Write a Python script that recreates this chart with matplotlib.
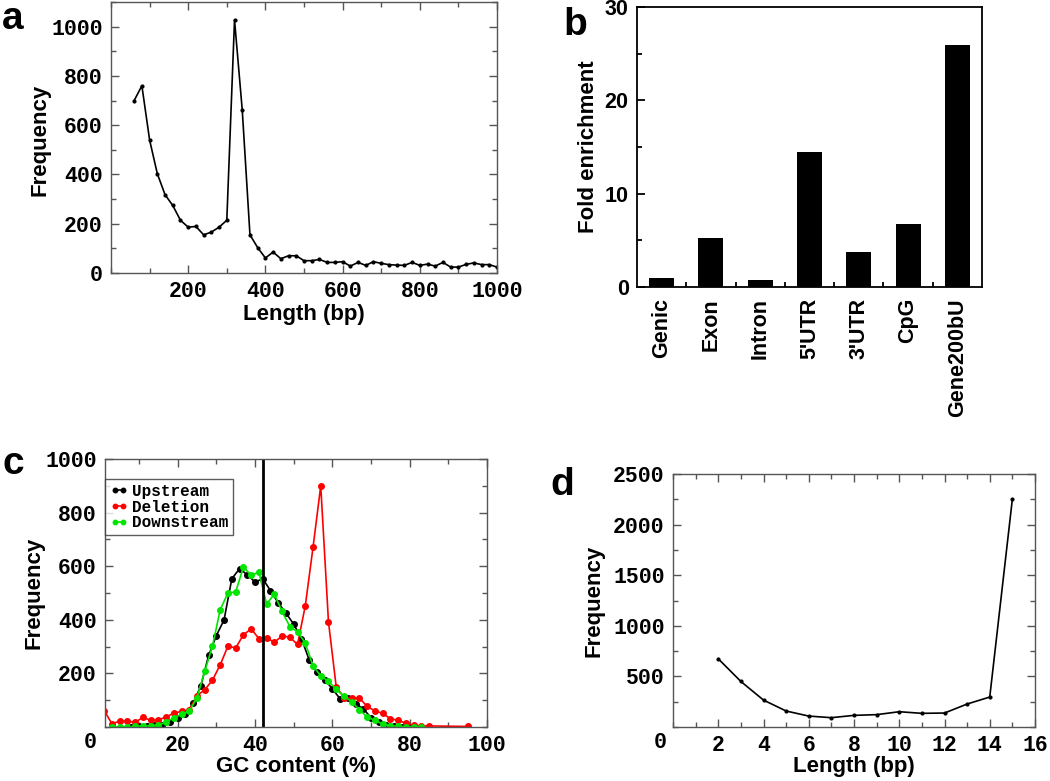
import matplotlib
matplotlib.use("Agg")
import matplotlib.pyplot as plt
from matplotlib.ticker import MultipleLocator, FixedLocator

# ---------------- data ----------------
# Panel a: fragment length distribution
len_a = list(range(60, 1001, 20))
freq_a = [700, 760, 540, 403, 318, 274, 214, 186, 189, 155, 166, 186, 214, 1027, 662,
          155, 103, 61, 85, 58, 70, 70, 50, 50, 55, 43, 43, 46, 28, 43, 31, 46, 39, 34,
          32, 31, 43, 31, 36, 28, 43, 24, 24, 35, 41, 34, 34, 24]

# Panel b: fold enrichment
regions_b = ["Genic", "Exon", "Intron", "5'UTR", "3'UTR", "CpG", "Gene200bU"]
fold_b = [1.0, 5.3, 0.8, 14.5, 3.75, 6.8, 25.9]

# Panel c: GC content
gc_up_x = list(range(8, 81, 2))
gc_up_y = [0, 2, 4, 6, 8, 20, 33, 48, 88, 154, 267, 341, 400, 553, 591, 568, 541, 553,
           509, 463, 425, 384, 330, 251, 204, 176, 143, 105, 108, 87, 68, 35, 18, 8, 4, 1, 0]
gc_del_x = list(range(1, 86, 2)) + [95]
gc_del_y = [61, 12, 22, 22, 17, 36, 25, 27, 37, 52, 58, 64, 117, 139, 175, 232, 302, 295,
            344, 366, 330, 332, 316, 340, 335, 308, 452, 670, 900, 392, 150, 110, 108, 108,
            77, 60, 51, 31, 25, 14, 6, 4, 4, 2]
gc_down_x = list(range(3, 84, 2))
gc_down_y = [0, 0, 0, 2, 4, 5, 7, 19, 34, 48, 58, 110, 208, 302, 438, 500, 504, 597, 566,
             578, 459, 496, 431, 375, 355, 313, 228, 191, 170, 141, 114, 95, 64, 37, 25, 11,
             5, 3, 1, 0, 0]
gc_genome = 42
series_labels_c = ["Upstream", "Deletion", "Downstream"]

# Panel d: length distribution
len_d = list(range(2, 16))
freq_d = [674, 450, 266, 158, 108, 92, 115, 122, 151, 135, 138, 227, 296, 2253]

# ---------------- styling ----------------
W, H = 1050, 781
MONO = "Liberation Mono"
SANS = "Liberation Sans"
SPINE = "#555555"
TICK_SIZE = 15.5

fig = plt.figure(figsize=(W / 100, H / 100), dpi=100)


def axes_px(l, t, r, b):
    return fig.add_axes([l / W, 1 - b / H, (r - l) / W, (b - t) / H])


def style_axes(ax, color=SPINE, lw=1.0, fam=MONO, size=TICK_SIZE):
    for s in ax.spines.values():
        s.set_color(color)
        s.set_linewidth(lw)
    ax.tick_params(which="both", direction="in", top=True, right=True, color=color)
    ax.tick_params(which="major", length=6, width=lw, pad=6)
    ax.tick_params(which="minor", length=3.5, width=lw)
    for lab in ax.get_xticklabels() + ax.get_yticklabels():
        lab.set_fontfamily(fam)
        lab.set_fontweight("bold")
        lab.set_fontsize(size)


def fig_text(x, y, s, **kw):
    fig.text(x / W, 1 - y / H, s, **kw)


lab_kw = dict(fontfamily=SANS, fontweight="bold", fontsize=16)
letter_kw = dict(fontfamily=SANS, fontweight="bold", fontsize=28, va="baseline", ha="left")

# ---------------- panel a ----------------
axa = axes_px(111, 2, 497, 273)
axa.plot(len_a, freq_a, color="black", lw=1.2, marker="o", ms=2)
axa.set_xlim(0, 1000)
axa.set_ylim(0, 1100)
axa.xaxis.set_major_locator(FixedLocator([200, 400, 600, 800, 1000]))
axa.xaxis.set_minor_locator(MultipleLocator(100))
axa.yaxis.set_major_locator(FixedLocator([0, 200, 400, 600, 800, 1000]))
axa.yaxis.set_minor_locator(MultipleLocator(100))
style_axes(axa)
axa.set_xlabel("Length (bp)", labelpad=1, **lab_kw)
axa.set_ylabel("Frequency", **lab_kw)
axa.yaxis.set_label_coords((50 - 111) / 386, 0.49)

# ---------------- panel b ----------------
axb = axes_px(637, 7, 982, 287)
pos_b = list(range(len(regions_b)))
axb.bar(pos_b, fold_b, width=0.51, color="black")
axb.set_xlim(-0.5, len(regions_b) - 0.5)
axb.set_ylim(0, 30)
axb.set_xticks(pos_b)
axb.set_xticklabels(regions_b, rotation=90)
axb.xaxis.set_minor_locator(FixedLocator([p + 0.5 for p in pos_b[:-1]]))
axb.yaxis.set_major_locator(MultipleLocator(10))
axb.yaxis.set_minor_locator(MultipleLocator(5))
style_axes(axb, color="black", lw=1.3, fam=SANS, size=15.5)
axb.tick_params(which="both", top=False, right=False)
axb.tick_params(axis="x", which="major", length=0, pad=8)
axb.set_ylabel("Fold enrichment", **lab_kw)
axb.yaxis.set_label_coords((599 - 637) / 345, 0.5)

# ---------------- panel c ----------------
axc = axes_px(105, 459, 487, 727)
axc.plot(gc_up_x, gc_up_y, color="black", lw=1.2, marker="o", ms=4, label=series_labels_c[0])
axc.plot(gc_del_x, gc_del_y, color="#ff0000", lw=1.2, marker="o", ms=4, label=series_labels_c[1])
axc.plot(gc_down_x, gc_down_y, color="#00e600", lw=1.2, marker="o", ms=4, label=series_labels_c[2])
axc.axvline(gc_genome, color="black", lw=2)
axc.set_xlim(1.2, 100)
axc.set_ylim(0, 1000)
axc.xaxis.set_major_locator(FixedLocator([20, 40, 60, 80, 100]))
axc.xaxis.set_minor_locator(FixedLocator([10, 30, 50, 70, 90]))
axc.yaxis.set_major_locator(FixedLocator([200, 400, 600, 800, 1000]))
axc.yaxis.set_minor_locator(MultipleLocator(100))
style_axes(axc)
leg = axc.legend(loc="upper left", bbox_to_anchor=(0.0, 0.925), numpoints=2,
                 prop=dict(family=MONO, weight="bold", size=11.5), frameon=True,
                 fancybox=False, borderaxespad=0, handlelength=1.1, handletextpad=0.3,
                 labelspacing=0.05, borderpad=0.3, markerscale=0.8)
leg.get_frame().set_edgecolor("#333333")
leg.get_frame().set_linewidth(1.0)
axc.set_xlabel("GC content (%)", labelpad=0, **lab_kw)
axc.set_ylabel("Frequency", **lab_kw)
axc.yaxis.set_label_coords((44 - 105) / 382, 0.5)
fig_text(90, 743, "0", fontfamily=MONO, fontweight="bold", fontsize=TICK_SIZE, ha="center", va="center")

# ---------------- panel d ----------------
axd = axes_px(673, 474, 1035, 727)
axd.plot(len_d, freq_d, color="black", lw=1.2, marker="o", ms=2)
axd.set_xlim(0, 16)
axd.set_ylim(0, 2500)
axd.xaxis.set_major_locator(FixedLocator([2, 4, 6, 8, 10, 12, 14, 16]))
axd.xaxis.set_minor_locator(MultipleLocator(1))
axd.yaxis.set_major_locator(FixedLocator([500, 1000, 1500, 2000, 2500]))
axd.yaxis.set_minor_locator(MultipleLocator(250))
style_axes(axd)
axd.set_xlabel("Length (bp)", labelpad=0, **lab_kw)
axd.set_ylabel("Frequency", **lab_kw)
axd.yaxis.set_label_coords((605 - 673) / 362, 0.5)
fig_text(660, 743, "0", fontfamily=MONO, fontweight="bold", fontsize=TICK_SIZE, ha="center", va="center")

# ---------------- panel letters ----------------
fig_text(2, 29, "a", **letter_kw)
fig_text(563, 35, "b", **letter_kw)
fig_text(2, 474, "c", **letter_kw)
fig_text(550, 495, "d", **letter_kw)

fig.savefig("out.png", dpi=100)
